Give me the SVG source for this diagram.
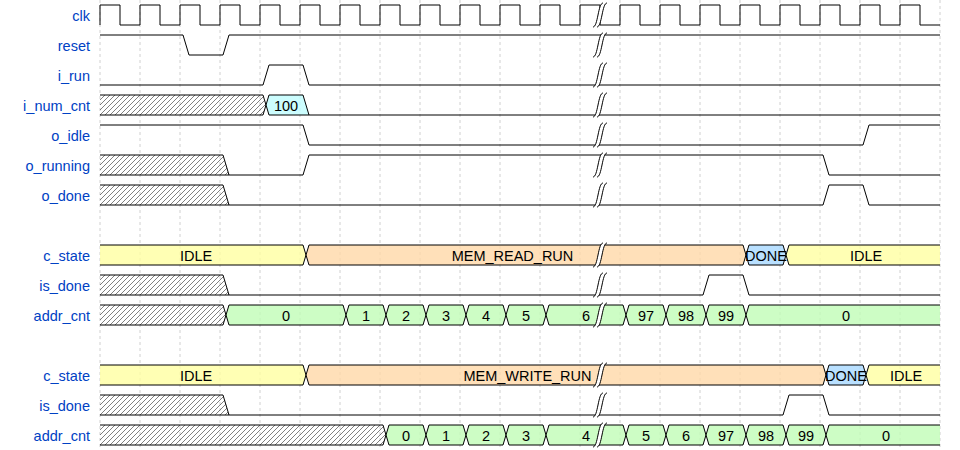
<svg xmlns="http://www.w3.org/2000/svg" width="960" height="450" viewBox="0 0 960 450">
<style>
.bg{fill:#fff}
.grid{stroke:#d0d0d0;stroke-width:1;stroke-dasharray:3,3;fill:none}
.w{fill:none;stroke:#000;stroke-width:1}
.hx{fill:url(#hatch);stroke:#000;stroke-width:1}
.hf{fill:url(#hatch);stroke:none}
.c3{fill:#ffffa1;fill-opacity:0.8;stroke:#000;stroke-width:1}
.c4{fill:#ffd8a8;fill-opacity:0.8;stroke:#000;stroke-width:1}
.c5{fill:#a8d8ff;fill-opacity:0.8;stroke:#000;stroke-width:1}
.c6{fill:#bffdfe;fill-opacity:0.8;stroke:none}
.c7{fill:#c0fdb6;fill-opacity:0.8;stroke:#000;stroke-width:1}
.lbl{font-family:"Liberation Sans",Arial,Helvetica,sans-serif;font-size:14.5px;fill:#0041c4;text-anchor:end}
.dt{font-family:"Liberation Sans",Arial,Helvetica,sans-serif;font-size:14.5px;fill:#000;text-anchor:middle}
</style>
<defs>
<pattern id="hatch" patternUnits="userSpaceOnUse" width="5" height="5">
<path d="M0,5 L5,0 M-1,1 L1,-1 M4,6 L6,4" stroke="#000" stroke-width="0.5" fill="none"/>
</pattern>
<g id="gap">
<path d="M-7,22 C-2,22 -2,-2 3,-2 L7,-2 C2,-2 2,22 -3,22 Z" fill="#fff" stroke="none"/>
<path d="M-7,22 C-2,22 -2,-2 3,-2" fill="none" stroke="#000" stroke-width="1"/>
<path d="M-3,22 C2,22 2,-2 7,-2" fill="none" stroke="#000" stroke-width="1"/>
</g>
</defs>
<rect class="bg" x="0" y="0" width="960" height="450"/>
<g id="grid">
<path class="grid" d="M100,0V450M140,0V450M180,0V450M220,0V450M260,0V450M300,0V450M340,0V450M380,0V450M420,0V450M460,0V450M500,0V450M540,0V450M580,0V450M620,0V450M660,0V450M700,0V450M740,0V450M780,0V450M820,0V450M860,0V450M900,0V450M940,0V450"/>
</g>

<g id="sig-clk">
<text class="lbl" x="90" y="21">clk</text>
<path class="w" d="M100,25 V5 H120 V25 H140 V5 H160 V25 H180 V5 H200 V25 H220 V5 H240 V25 H260 V5 H280 V25 H300 V5 H320 V25 H340 V5 H360 V25 H380 V5 H400 V25 H420 V5 H440 V25 H460 V5 H480 V25 H500 V5 H520 V25 H540 V5 H560 V25 H580 V5 H600 V25 H620 V5 H640 V25 H660 V5 H680 V25 H700 V5 H720 V25 H740 V5 H760 V25 H780 V5 H800 V25 H820 V5 H840 V25 H860 V5 H880 V25 H900 V5 H920 V25 H940"/>
<use href="#gap" x="600" y="5"/>
</g>

<g id="sig-reset">
<text class="lbl" x="90" y="51">reset</text>
<path class="w" d="M100,35 H183 L189,55 H223 L229,35 H940"/>
<use href="#gap" x="600" y="35"/>
</g>

<g id="sig-i_run">
<text class="lbl" x="90" y="81">i_run</text>
<path class="w" d="M100,85 H263 L269,65 H303 L309,85 H940"/>
<use href="#gap" x="600" y="65"/>
</g>

<g id="sig-i_num_cnt">
<text class="lbl" x="90" y="111">i_num_cnt</text>
<path class="hx" d="M100,95 H263 L266,105 L263,115 H100"/>
<path class="c6" d="M269,95 H303 L309,115 H269 L266,105 Z"/>
<path class="w" d="M266,105 L269,95 H303 L309,115 M266,105 L269,115 H940"/>
<text class="dt" x="286" y="111">100</text>
<use href="#gap" x="600" y="95"/>
</g>

<g id="sig-o_idle">
<text class="lbl" x="90" y="141">o_idle</text>
<path class="w" d="M100,125 H303 L309,145 H863 L869,125 H940"/>
<use href="#gap" x="600" y="125"/>
</g>

<g id="sig-o_running">
<text class="lbl" x="90" y="171">o_running</text>
<path class="hf" d="M100,155 H223 L229,175 H100 Z"/>
<path class="w" d="M100,155 H223 L229,175 M100,175 H303 L309,155 H823 L829,175 H940"/>
<use href="#gap" x="600" y="155"/>
</g>

<g id="sig-o_done">
<text class="lbl" x="90" y="201">o_done</text>
<path class="hf" d="M100,185 H223 L229,205 H100 Z"/>
<path class="w" d="M100,185 H223 L229,205 M100,205 H823 L829,185 H863 L869,205 H940"/>
<use href="#gap" x="600" y="185"/>
</g>

<g id="sig-c_state-1">
<text class="lbl" x="90" y="261">c_state</text>
<path class="c3" d="M100,245 H303 L306,255 L303,265 H100"/>
<polygon class="c4" points="309,245 743,245 746,255 743,265 309,265 306,255"/>
<polygon class="c5" points="749,245 783,245 786,255 783,265 749,265 746,255"/>
<path class="c3" d="M940,245 H789 L786,255 L789,265 H940"/>
<use href="#gap" x="600" y="245"/>
<text class="dt" x="196" y="261">IDLE</text>
<text class="dt" x="512.5" y="261">MEM_READ_RUN</text>
<text class="dt" x="766" y="261">DONE</text>
<text class="dt" x="866" y="261">IDLE</text>
</g>

<g id="sig-is_done-1">
<text class="lbl" x="90" y="291">is_done</text>
<path class="hf" d="M100,275 H223 L229,295 H100 Z"/>
<path class="w" d="M100,275 H223 L229,295 M100,295 H703 L709,275 H743 L749,295 H940"/>
<use href="#gap" x="600" y="275"/>
</g>

<g id="sig-addr_cnt-1">
<text class="lbl" x="90" y="321">addr_cnt</text>
<path class="hx" d="M100,305 H223 L226,315 L223,325 H100"/>
<polygon class="c7" points="229,305 343,305 346,315 343,325 229,325 226,315"/>
<polygon class="c7" points="349,305 383,305 386,315 383,325 349,325 346,315"/>
<polygon class="c7" points="389,305 423,305 426,315 423,325 389,325 386,315"/>
<polygon class="c7" points="429,305 463,305 466,315 463,325 429,325 426,315"/>
<polygon class="c7" points="469,305 503,305 506,315 503,325 469,325 466,315"/>
<polygon class="c7" points="509,305 543,305 546,315 543,325 509,325 506,315"/>
<polygon class="c7" points="549,305 623,305 626,315 623,325 549,325 546,315"/>
<polygon class="c7" points="629,305 663,305 666,315 663,325 629,325 626,315"/>
<polygon class="c7" points="669,305 703,305 706,315 703,325 669,325 666,315"/>
<polygon class="c7" points="709,305 743,305 746,315 743,325 709,325 706,315"/>
<path class="c7" d="M940,305 H749 L746,315 L749,325 H940"/>
<use href="#gap" x="600" y="305"/>
<text class="dt" x="286" y="321">0</text>
<text class="dt" x="366" y="321">1</text>
<text class="dt" x="406" y="321">2</text>
<text class="dt" x="446" y="321">3</text>
<text class="dt" x="486" y="321">4</text>
<text class="dt" x="526" y="321">5</text>
<text class="dt" x="586" y="321">6</text>
<text class="dt" x="646" y="321">97</text>
<text class="dt" x="686" y="321">98</text>
<text class="dt" x="726" y="321">99</text>
<text class="dt" x="846" y="321">0</text>
</g>

<g id="sig-c_state-2">
<text class="lbl" x="90" y="381">c_state</text>
<path class="c3" d="M100,365 H303 L306,375 L303,385 H100"/>
<polygon class="c4" points="309,365 823,365 826,375 823,385 309,385 306,375"/>
<polygon class="c5" points="829,365 863,365 866,375 863,385 829,385 826,375"/>
<path class="c3" d="M940,365 H869 L866,375 L869,385 H940"/>
<use href="#gap" x="600" y="365"/>
<text class="dt" x="196" y="381">IDLE</text>
<text class="dt" x="527.5" y="381">MEM_WRITE_RUN</text>
<text class="dt" x="846" y="381">DONE</text>
<text class="dt" x="906" y="381">IDLE</text>
</g>

<g id="sig-is_done-2">
<text class="lbl" x="90" y="411">is_done</text>
<path class="hf" d="M100,395 H223 L229,415 H100 Z"/>
<path class="w" d="M100,395 H223 L229,415 M100,415 H783 L789,395 H823 L829,415 H940"/>
<use href="#gap" x="600" y="395"/>
</g>

<g id="sig-addr_cnt-2">
<text class="lbl" x="90" y="441">addr_cnt</text>
<path class="hx" d="M100,425 H383 L386,435 L383,445 H100"/>
<polygon class="c7" points="389,425 423,425 426,435 423,445 389,445 386,435"/>
<polygon class="c7" points="429,425 463,425 466,435 463,445 429,445 426,435"/>
<polygon class="c7" points="469,425 503,425 506,435 503,445 469,445 466,435"/>
<polygon class="c7" points="509,425 543,425 546,435 543,445 509,445 506,435"/>
<polygon class="c7" points="549,425 623,425 626,435 623,445 549,445 546,435"/>
<polygon class="c7" points="629,425 663,425 666,435 663,445 629,445 626,435"/>
<polygon class="c7" points="669,425 703,425 706,435 703,445 669,445 666,435"/>
<polygon class="c7" points="709,425 743,425 746,435 743,445 709,445 706,435"/>
<polygon class="c7" points="749,425 783,425 786,435 783,445 749,445 746,435"/>
<polygon class="c7" points="789,425 823,425 826,435 823,445 789,445 786,435"/>
<path class="c7" d="M940,425 H829 L826,435 L829,445 H940"/>
<use href="#gap" x="600" y="425"/>
<text class="dt" x="406" y="441">0</text>
<text class="dt" x="446" y="441">1</text>
<text class="dt" x="486" y="441">2</text>
<text class="dt" x="526" y="441">3</text>
<text class="dt" x="586" y="441">4</text>
<text class="dt" x="646" y="441">5</text>
<text class="dt" x="686" y="441">6</text>
<text class="dt" x="726" y="441">97</text>
<text class="dt" x="766" y="441">98</text>
<text class="dt" x="806" y="441">99</text>
<text class="dt" x="886" y="441">0</text>
</g>
</svg>
